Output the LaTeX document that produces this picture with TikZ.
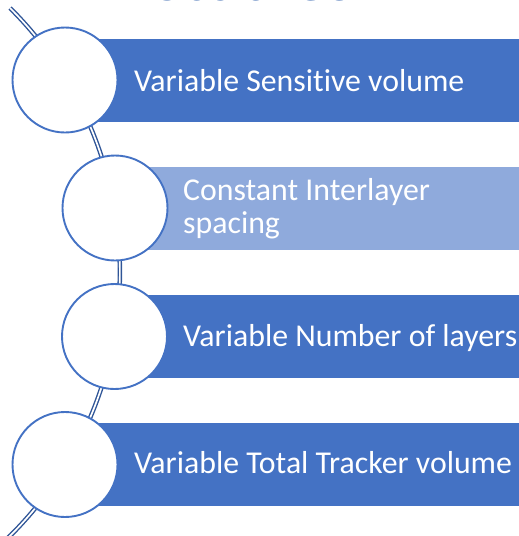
\documentclass[tikz,border=0pt]{standalone}
\usepackage{fontspec}
\setmainfont{Carlito}[Ligatures=NoCommon]
\definecolor{barblue}{HTML}{4472C4}
\definecolor{barlight}{HTML}{8FAADC}
\definecolor{linedark}{HTML}{2F5597}
\definecolor{titleblue}{HTML}{2A5CAA}
\tikzset{
  bar/.style={fill=#1, draw=none, inner sep=0pt, minimum height=83pt, anchor=west},
  disc/.style={circle, draw=barblue, line width=1.9pt, fill=white, minimum size=105pt, inner sep=0pt},
  label/.style={text=white, font=\fontsize{31.8}{33}\selectfont, anchor=base west, inner sep=0pt, align=left},
  conn/.style={draw=linedark, line width=1.4pt, double=white, double distance=1.7pt, line cap=butt}
}
\begin{document}
\begin{tikzpicture}[x=1pt,y=-1pt]
\useasboundingbox (0,0) rectangle (519,536);
\clip (0,0) rectangle (519,536);
% partial title
\node[font=\bfseries\fontsize{66}{70}\selectfont, text=titleblue, anchor=base, inner sep=0pt] (title) at (253,0.8) {Studies};
% connector arc
\coordinate (arcstart) at (10,8);
\draw[conn] (arcstart) arc[start angle=-45.2, end angle=46, radius=372];
% bars
\node[bar=barblue, minimum width=454pt] (bar1) at (65,80.5) {};
\node[bar=barlight, minimum width=404pt] (bar2) at (115,208) {};
\node[bar=barblue, minimum width=404pt] (bar3) at (115,336.5) {};
\node[bar=barblue, minimum width=454pt] (bar4) at (65,464) {};
% circles
\node[disc] (c1) at (65,80) {};
\node[disc] (c2) at (115,208) {};
\node[disc] (c3) at (114.5,336.5) {};
\node[disc] (c4) at (65,464.5) {};
% texts
\node[label] (t1) at (134,91) {Variable Sensitive volume};
\node[label] (t2) at (183,233) {Constant Interlayer\\spacing};
\node[label] (t3) at (183,346) {Variable Number of layers};
\node[label] (t4) at (134,473) {Variable Total Tracker volume};
\end{tikzpicture}
\end{document}
